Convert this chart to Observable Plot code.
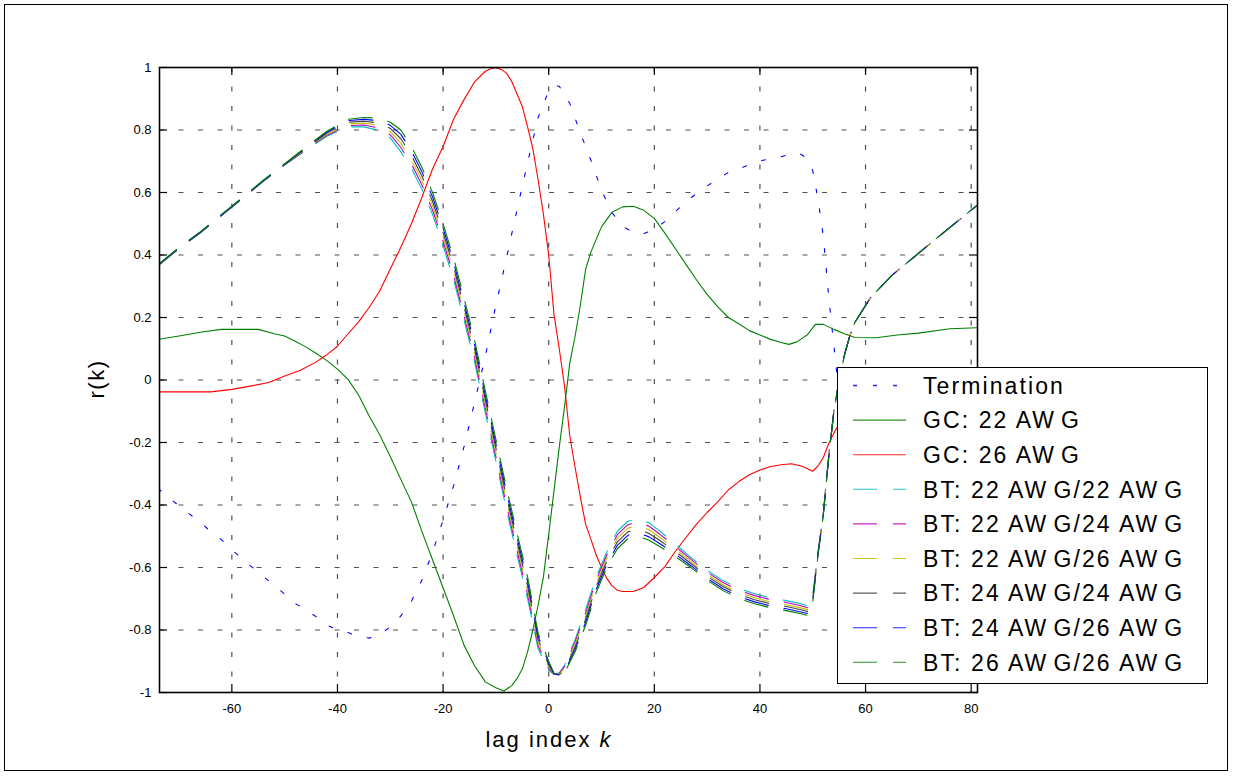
<!DOCTYPE html>
<html><head><meta charset="utf-8">
<script src="https://cdn.jsdelivr.net/npm/d3@7"></script>
<script src="https://cdn.jsdelivr.net/npm/@observablehq/plot@0.6"></script>
<style>
html,body{margin:0;padding:0;background:#fff;}
#wrap{position:relative;width:1233px;height:776px;overflow:hidden;font-family:"Liberation Sans",Arial,sans-serif;background:#fff;}
#chart{position:absolute;left:0;top:0;}
#border{position:absolute;left:4px;top:4px;width:1222px;height:765px;border:1.5px solid #000;pointer-events:none;}
#ylab{position:absolute;left:97px;top:379px;transform:translate(-50%,-50%) rotate(-90deg);font-size:22px;letter-spacing:1.5px;white-space:nowrap;}
#xlab{position:absolute;left:549px;top:740px;transform:translate(-50%,-50%);font-size:22px;letter-spacing:2px;white-space:nowrap;}
#legend{position:absolute;left:837px;top:367px;width:369px;height:315px;border:1.5px solid #000;background:#fff;}
</style></head>
<body><div id="wrap"><div id="chart"></div><div id="border"></div>
<div id="ylab">r(k)</div><div id="xlab">lag index <i>k</i></div><div id="legend"></div></div>
<script>
// ---------- data ----------
const seriesNames = ["Termination","GC: 22 AWG","GC: 26 AWG","BT: 22 AWG/22 AWG","BT: 22 AWG/24 AWG","BT: 22 AWG/26 AWG","BT: 24 AWG/24 AWG","BT: 24 AWG/26 AWG","BT: 26 AWG/26 AWG"];
const xTicks = [-60,-40,-20,0,20,40,60,80];
const yTicks = [-1,-0.8,-0.6,-0.4,-0.2,0,0.2,0.4,0.6,0.8,1];

const termLags = [-74,-72,-70,-68,-66,-64,-62,-60,-58,-56,-54,-52,-50,-48,-46,-44,-42,-40,-38,-36,-34,-32,-30,-28,-26,-24,-22,-20,-18,-16,-14,-12,-10,-8,-6,-4,-2,0,1,2,4,6,8,10,12,14,16,18,20,22,24,26,28,30,32,34,36,38,40,42,44,46,47,48,49,50,51,52,53,54,55,56,58,60,65,70,75,81];
const termR = [-0.347,-0.375,-0.403,-0.429,-0.455,-0.485,-0.511,-0.543,-0.573,-0.601,-0.629,-0.657,-0.685,-0.715,-0.735,-0.758,-0.784,-0.800,-0.808,-0.821,-0.826,-0.815,-0.790,-0.755,-0.708,-0.640,-0.552,-0.448,-0.338,-0.211,-0.070,0.076,0.240,0.390,0.545,0.695,0.840,0.925,0.942,0.940,0.885,0.790,0.703,0.607,0.535,0.492,0.472,0.468,0.483,0.507,0.539,0.570,0.597,0.621,0.643,0.664,0.676,0.689,0.701,0.708,0.714,0.725,0.727,0.720,0.707,0.670,0.578,0.460,0.270,0.110,-0.050,-0.200,-0.330,-0.380,-0.400,-0.400,-0.390,-0.380];

const gc22Lags = [-74,-70,-66,-62,-58,-55,-52,-50,-48,-46,-44,-42,-40,-38,-36,-34,-32,-30,-28,-26,-24,-22,-20,-18,-16,-14,-12,-10,-8.5,-7,-6,-5,-4,-3,-2,-1,0,1,2,3,4,5,6,7,8,10,12,14,16,18,20,22,24,26,28,30,32,34,36,38,40,42,44,45.5,47,49,50.5,52,54,56,58,62,66,70,76,81];
const gc22R = [0.130,0.141,0.153,0.162,0.162,0.162,0.148,0.141,0.124,0.106,0.085,0.062,0.035,0.002,-0.048,-0.115,-0.175,-0.245,-0.318,-0.390,-0.485,-0.575,-0.665,-0.755,-0.850,-0.915,-0.966,-0.985,-0.995,-0.978,-0.955,-0.925,-0.870,-0.800,-0.720,-0.630,-0.494,-0.355,-0.215,-0.085,0.055,0.140,0.240,0.355,0.410,0.490,0.537,0.554,0.556,0.543,0.517,0.470,0.420,0.370,0.320,0.274,0.235,0.200,0.180,0.158,0.144,0.130,0.120,0.114,0.122,0.145,0.178,0.178,0.162,0.148,0.136,0.135,0.144,0.150,0.164,0.167];

const gc26Lags = [-74,-64,-60,-56,-53,-50,-47,-44,-42,-40,-38,-36,-34,-32,-30,-28,-26,-24,-22,-20,-18,-16,-14,-12,-11,-10,-9,-8,-7,-6,-5,-4,-3,-2,-1,0,1,2,3,4,5,6,7,8,9,10,11,12,13,14,16,18,20,22,24,26,28,30,32,34,36,38,40,42,44,46,48,50,51,52,53,54,55,57,60,65,70,81];
const gc26R = [-0.038,-0.038,-0.030,-0.018,-0.008,0.013,0.031,0.058,0.081,0.108,0.148,0.186,0.232,0.285,0.355,0.425,0.500,0.585,0.675,0.747,0.835,0.898,0.955,0.988,0.996,0.999,0.994,0.982,0.955,0.915,0.875,0.810,0.740,0.640,0.530,0.400,0.210,0.100,-0.020,-0.180,-0.280,-0.375,-0.462,-0.510,-0.560,-0.600,-0.635,-0.659,-0.673,-0.677,-0.677,-0.664,-0.632,-0.597,-0.548,-0.504,-0.461,-0.424,-0.390,-0.352,-0.325,-0.303,-0.288,-0.277,-0.271,-0.268,-0.276,-0.292,-0.275,-0.248,-0.205,-0.170,-0.140,-0.110,-0.090,-0.075,-0.065,-0.055];

const btLags = [-74,-70,-66,-62,-58,-54,-50,-46,-42,-38,-35,-32,-30,-28,-26,-24,-22,-20,-18,-16,-14,-12,-10,-8,-6,-4,-2,0,1,2,3,5,7,9,11,13,15,17,19,21,24,27,30,33,36,39,42,45,48,49,50,51,52,53,54,55,56,57,58,61,65,70,75,81];
const bt2222 = [0.365,0.420,0.470,0.525,0.580,0.636,0.688,0.735,0.780,0.810,0.810,0.798,0.775,0.730,0.677,0.610,0.530,0.430,0.320,0.190,0.055,-0.105,-0.260,-0.415,-0.560,-0.700,-0.860,-0.930,-0.942,-0.937,-0.913,-0.830,-0.735,-0.630,-0.550,-0.484,-0.452,-0.444,-0.457,-0.483,-0.525,-0.569,-0.609,-0.642,-0.667,-0.684,-0.697,-0.706,-0.717,-0.723,-0.690,-0.550,-0.428,-0.248,-0.098,0.002,0.081,0.141,0.186,0.265,0.335,0.405,0.475,0.557];
const bt2224 = [0.366,0.421,0.471,0.526,0.581,0.637,0.689,0.737,0.783,0.814,0.816,0.806,0.785,0.744,0.691,0.624,0.544,0.444,0.334,0.204,0.069,-0.091,-0.246,-0.401,-0.546,-0.686,-0.850,-0.924,-0.941,-0.939,-0.917,-0.838,-0.745,-0.640,-0.560,-0.495,-0.463,-0.455,-0.468,-0.493,-0.533,-0.575,-0.615,-0.648,-0.673,-0.690,-0.703,-0.712,-0.723,-0.729,-0.694,-0.552,-0.429,-0.249,-0.099,0.001,0.080,0.140,0.185,0.265,0.335,0.405,0.475,0.557];
const bt2226 = [0.367,0.422,0.472,0.527,0.582,0.638,0.690,0.739,0.786,0.819,0.822,0.814,0.795,0.758,0.705,0.638,0.558,0.458,0.348,0.218,0.083,-0.077,-0.232,-0.387,-0.532,-0.672,-0.840,-0.918,-0.940,-0.941,-0.922,-0.846,-0.755,-0.650,-0.570,-0.506,-0.474,-0.466,-0.479,-0.503,-0.541,-0.582,-0.622,-0.655,-0.680,-0.697,-0.710,-0.719,-0.730,-0.735,-0.698,-0.554,-0.430,-0.250,-0.100,0.000,0.080,0.140,0.185,0.265,0.335,0.405,0.475,0.557];
const bt2424 = [0.367,0.422,0.472,0.527,0.582,0.638,0.690,0.741,0.790,0.825,0.828,0.822,0.805,0.772,0.719,0.652,0.572,0.472,0.362,0.232,0.097,-0.063,-0.218,-0.373,-0.518,-0.658,-0.830,-0.912,-0.940,-0.943,-0.928,-0.854,-0.765,-0.660,-0.580,-0.518,-0.486,-0.478,-0.491,-0.513,-0.549,-0.588,-0.628,-0.661,-0.686,-0.703,-0.716,-0.725,-0.736,-0.741,-0.702,-0.556,-0.430,-0.250,-0.100,0.000,0.080,0.140,0.185,0.265,0.335,0.405,0.475,0.557];
const bt2426 = [0.368,0.423,0.473,0.528,0.583,0.639,0.691,0.743,0.793,0.830,0.834,0.830,0.815,0.786,0.733,0.666,0.586,0.486,0.376,0.246,0.111,-0.049,-0.204,-0.359,-0.504,-0.644,-0.820,-0.906,-0.939,-0.945,-0.933,-0.862,-0.775,-0.670,-0.590,-0.529,-0.497,-0.489,-0.502,-0.523,-0.557,-0.595,-0.635,-0.668,-0.693,-0.710,-0.723,-0.732,-0.743,-0.747,-0.706,-0.558,-0.431,-0.251,-0.101,-0.001,0.080,0.140,0.185,0.265,0.335,0.405,0.475,0.557];
const bt2626 = [0.369,0.424,0.474,0.529,0.584,0.640,0.692,0.745,0.796,0.834,0.840,0.838,0.825,0.800,0.747,0.680,0.600,0.500,0.390,0.260,0.125,-0.035,-0.190,-0.345,-0.490,-0.630,-0.810,-0.900,-0.938,-0.947,-0.937,-0.870,-0.785,-0.680,-0.600,-0.540,-0.508,-0.500,-0.513,-0.533,-0.565,-0.601,-0.641,-0.674,-0.699,-0.716,-0.729,-0.738,-0.749,-0.753,-0.710,-0.560,-0.432,-0.252,-0.102,-0.002,0.079,0.140,0.185,0.265,0.335,0.405,0.475,0.557];

// ---------- styles (MATLAB default colour order) ----------
const seriesColors = ["#0000ff","#008000","#ff0000","#00bfbf","#bf00bf","#bfbf00","#404040","#0000ff","#008000"];
const seriesDash = ["4,16",null,null,"24,16","24,16","24,16","24,16","24,16","24,16"];

const seriesData = [
  [termLags, termR],[gc22Lags, gc22R],[gc26Lags, gc26R],
  [btLags, bt2222],[btLags, bt2224],[btLags, bt2226],[btLags, bt2424],[btLags, bt2426],[btLags, bt2626]
];
const tables = seriesData.map(([ks, rs], i) => ks.map((k, j) => ({series: seriesNames[i], k, r: rs[j]})));

const W = 1233, H = 776, mL = 159, mR = 256, mT = 67, mB = 84;
const innerW = W - mL - mR, innerH = H - mT - mB, tickLen = 8;
const gridStyle = {stroke: "#505050", strokeOpacity: 1, strokeWidth: 1.2, strokeDasharray: "5,14.5"};

const chart = Plot.plot({
  width: W, height: H,
  marginLeft: mL, marginRight: mR, marginTop: mT, marginBottom: mB,
  x: {domain: [-73.7, 81.2]},
  y: {domain: [-1, 1]},
  style: {fontFamily: "'Liberation Sans', Arial, sans-serif", background: "transparent", color: "black"},
  marks: [
    Plot.gridX({ticks: xTicks, ...gridStyle}),
    Plot.gridY({ticks: yTicks.filter(v => Math.abs(v) < 1), ...gridStyle}),
    ...tables.map((t, i) => Plot.line(t, {x: "k", y: "r", stroke: seriesColors[i], strokeWidth: 1.1,
        strokeDasharray: seriesDash[i] ?? undefined, clip: true, curve: "linear"})),
    Plot.tickX(xTicks, {x: d => d, stroke: "black", strokeWidth: 1.2, insetTop: innerH - tickLen}),
    Plot.tickX(xTicks, {x: d => d, stroke: "black", strokeWidth: 1.2, insetBottom: innerH - tickLen}),
    Plot.tickY(yTicks, {y: d => d, stroke: "black", strokeWidth: 1.2, insetRight: innerW - tickLen}),
    Plot.tickY(yTicks, {y: d => d, stroke: "black", strokeWidth: 1.2, insetLeft: innerW - tickLen}),
    Plot.frame({stroke: "black", strokeWidth: 1.6}),
    Plot.axisX({ticks: xTicks, tickSize: 0, tickPadding: 11, fontSize: 13, tickFormat: d => String(d), label: null}),
    Plot.axisY({ticks: yTicks, tickSize: 0, tickPadding: 8, fontSize: 13, tickFormat: d => String(d), label: null})
  ]
});
document.getElementById("chart").appendChild(chart);

// ---------- legend ----------
const leg = d3.select("#legend").append("svg").attr("width", 369).attr("height", 315)
  .style("position", "absolute").style("left", "0px").style("top", "0px");
seriesNames.forEach((name, i) => {
  const y = 17.5 + i * 34.6;
  leg.append("line").attr("x1", 15).attr("x2", 68).attr("y1", y).attr("y2", y)
    .attr("stroke", seriesColors[i]).attr("stroke-width", i === 0 ? 1.4 : 1.1)
    .attr("stroke-dasharray", seriesDash[i] ?? null).attr("opacity", 0.85);
  const t = leg.append("text").attr("x", 85).attr("y", y).attr("dy", "0.36em")
    .attr("font-family", "'Liberation Sans', Arial, sans-serif").attr("font-size", 23)
    .attr("letter-spacing", 2.1);
  // MATLAB's export leaves a visible gap between "W" and "G"; reproduce it with a dx shift
  const parts = name.split("WG");
  parts.forEach((p, j) => {
    t.append("tspan").text(j < parts.length - 1 ? p + "W" : p);
    if (j < parts.length - 1) t.append("tspan").attr("dx", 5).text("G");
  });
});
</script>
</body></html>
